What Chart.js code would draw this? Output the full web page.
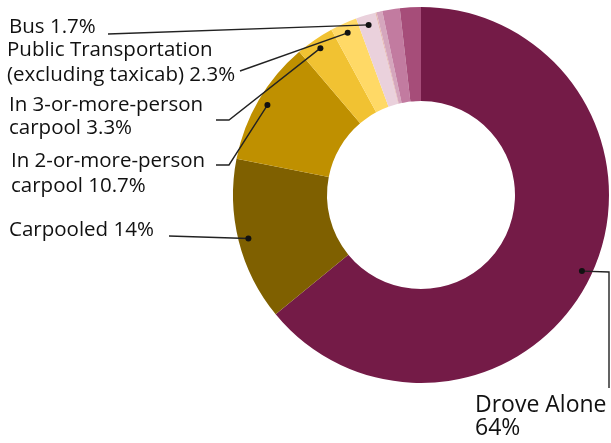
<!DOCTYPE html>
<html>
<head>
<meta charset="utf-8">
<script src="https://cdn.jsdelivr.net/npm/chart.js@4.4.1/dist/chart.umd.min.js"></script>
<style>
  html, body { margin: 0; padding: 0; background: #fff; }
  #wrap { width: 611px; height: 443px; position: relative; }
</style>
</head>
<body>
<div id="wrap"><canvas id="myChart"></canvas></div>
<script>
'use strict';

// slice data, clockwise from 12 o'clock
let categories = [
  'Drove Alone',
  'Carpooled',
  'In 2-or-more-person carpool',
  'In 3-or-more-person carpool',
  'Public Transportation (excluding taxicab)',
  'Bus',
  'Subway or elevated',
  'Railroad',
  'Walked',
  'Worked at home'
];
let values = [64, 14, 10.7, 3.3, 2.3, 1.7, 0.1, 0.5, 1.5, 1.8];
let colors = [
  '#741b47', '#7f6000', '#bf9000', '#f1c232', '#ffd966',
  '#ead1dc', '#e6b8af', '#d5a6bd', '#c27ba0', '#a64d79'
];

// callout labels: slice index, text lines, text spot, leader line bends
let callouts = [
  { i: 5, lines: ['Bus 1.7%'], x: 9, y: 33, size: 20.5, lh: 24, path: [[108, 34]] },
  { i: 4, lines: ['Public Transportation', '(excluding taxicab) 2.3%'], x: 7, y: 56, size: 20.5, lh: 25, path: [[240, 71]] },
  { i: 3, lines: ['In 3-or-more-person', 'carpool 3.3%'], x: 9, y: 111, size: 20.5, lh: 23, path: [[229, 120], [216, 120]] },
  { i: 2, lines: ['In 2-or-more-person', 'carpool 10.7%'], x: 11, y: 167, size: 20.5, lh: 25, path: [[229, 165], [216, 165]] },
  { i: 1, lines: ['Carpooled 14%'], x: 9, y: 236, size: 20.5, lh: 24, path: [[169, 236]] },
  { i: 0, lines: ['Drove Alone', '64%'], x: 475, y: 412, size: 23, lh: 23, path: [[609, 272], [609, 388]] }
];

let ctx = document.getElementById('myChart').getContext('2d');

// draws the dots, leader lines and texts
let calloutPlugin = {
  id: 'callouts',
  afterDraw(chart) {
    let c = chart.ctx;
    let meta = chart.getDatasetMeta(0);
    c.save();
    c.strokeStyle = '#222';
    c.fillStyle = '#111';
    c.lineWidth = 1.4;
    c.textBaseline = 'alphabetic';
    for (let k = 0; k < callouts.length; k++) {
      let co = callouts[k];
      let arc = meta.data[co.i].getProps(['x', 'y', 'startAngle', 'endAngle', 'outerRadius']);
      let mid = (arc.startAngle + arc.endAngle) / 2;
      let r = arc.outerRadius - 10;
      let px = arc.x + Math.cos(mid) * r;
      let py = arc.y + Math.sin(mid) * r;

      c.beginPath();
      c.moveTo(px, py);
      for (let j = 0; j < co.path.length; j++) {
        c.lineTo(co.path[j][0], co.path[j][1]);
      }
      c.stroke();

      c.beginPath();
      c.arc(px, py, 3, 0, Math.PI * 2);
      c.fill();

      c.font = co.size + 'px "Open Sans"';
      for (let j = 0; j < co.lines.length; j++) {
        c.fillText(co.lines[j], co.x, co.y + j * co.lh);
      }
    }
    c.restore();
  }
};

new Chart(ctx, {
  type: 'doughnut',
  data: {
    labels: categories,
    datasets: [{
      data: values,
      backgroundColor: colors,
      borderWidth: 0
    }]
  },
  options: {
    responsive: true,
    maintainAspectRatio: false,
    animation: false,
    cutout: '50%',
    layout: {
      padding: { left: 233, right: 2, top: 7, bottom: 60 }
    },
    plugins: {
      legend: { display: false },
      tooltip: { enabled: false }
    }
  },
  plugins: [calloutPlugin]
});
</script>
</body>
</html>
